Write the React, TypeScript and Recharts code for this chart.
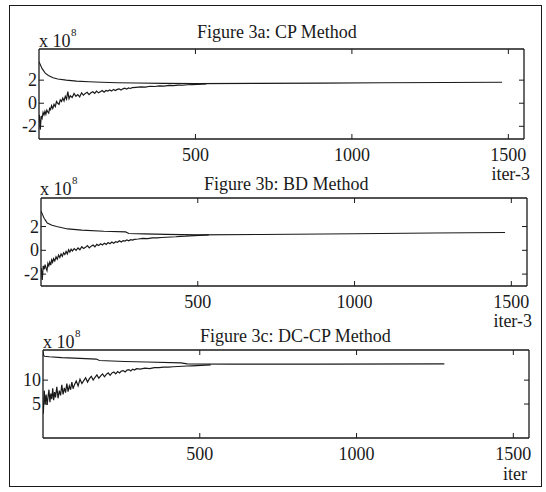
import { LineChart, Line, XAxis, YAxis } from 'recharts';

// iterations sampled for the noisy lower-bound curves
const ITER_LOW = [
  1, 4, 7, 10, 13, 16, 19, 22, 25, 28, 31, 34, 37, 40, 44, 48, 52, 56, 60, 64, 68, 72, 76, 80, 84, 88, 92, 96, 100,
  106, 112, 118, 124, 130, 136, 142, 148, 154, 160, 166, 172, 178, 184, 190, 196, 202, 208, 214, 220, 226, 232,
  238, 244, 250, 256, 262, 268, 274, 280, 286, 292, 298,
  310, 325, 340, 355, 370, 385, 400, 415, 430, 445, 460, 475, 490, 505, 520, 535,
];

const X_TICKS = [500, 1000, 1500];

// Figure 3a: CP Method (x 10^8)
const A_UP_ITER = [0, 5, 10, 15, 20, 30, 45, 60, 87, 120, 160, 200, 250, 310, 400, 500, 700, 900, 1100, 1300, 1480];
const A_UP = [3.6, 3.3, 3.0, 2.8, 2.6, 2.4, 2.2, 2.1, 2.0, 1.92, 1.86, 1.82, 1.78, 1.75, 1.72, 1.7, 1.72, 1.74, 1.77, 1.8, 1.82];
const A_LOW = [
  -1.0, -2.3, -1.1, -1.3, -0.8, -1.0, -0.7, -0.95, -0.6, -0.75, -0.85, -0.45, -0.55, -0.2, -0.45, -0.1, -0.3, 0.15,
  0.0, -0.1, 0.3, 0.15, 0.45, 0.2, 0.6, 0.35, 1.0, 0.4, 0.65,
  0.5, 0.85, 0.6, 0.75, 0.55, 0.9, 0.7, 0.85, 0.95, 0.75, 0.9, 1.0, 0.85, 1.05, 0.9, 1.0, 1.1, 0.95, 1.1, 1.05,
  1.15, 1.05, 1.2, 1.1, 1.2, 1.25, 1.15, 1.25, 1.3, 1.22, 1.32, 1.28, 1.35,
  1.38, 1.42, 1.4, 1.47, 1.45, 1.5, 1.49, 1.54, 1.52, 1.57, 1.56, 1.6, 1.62, 1.64, 1.66, 1.68,
];

// Figure 3b: BD Method (x 10^8)
const B_UP_ITER = [0, 5, 10, 15, 20, 35, 50, 85, 130, 200, 270, 280, 330, 400, 500, 700, 1000, 1250, 1480];
const B_UP = [3.3, 3.0, 2.7, 2.5, 2.3, 2.1, 2.0, 1.8, 1.7, 1.6, 1.55, 1.42, 1.38, 1.34, 1.3, 1.33, 1.4, 1.46, 1.5];
const B_LOW = [
  -1.5, -2.5, -1.3, -1.6, -1.2, -1.5, -1.7, -1.1, -1.3, -1.0, -1.25, -0.8, -1.0, -0.7, -0.9, -0.55, -0.75, -0.4,
  -0.6, -0.3, -0.5, -0.2, -0.35, -0.1, -0.3, 0.05, -0.15, 0.1, -0.05,
  0.15, 0.0, 0.2, 0.05, 0.3, 0.15, 0.25, 0.4, 0.2, 0.35, 0.45, 0.3, 0.5, 0.4, 0.55, 0.45, 0.6, 0.5, 0.65, 0.55,
  0.7, 0.6, 0.72, 0.68, 0.8, 0.7, 0.82, 0.78, 0.88, 0.8, 0.9, 0.86, 0.92,
  0.95, 1.0, 0.98, 1.04, 1.05, 1.08, 1.1, 1.12, 1.14, 1.17, 1.19, 1.22, 1.24, 1.26, 1.28, 1.3,
];

// Figure 3c: DC-CP Method (x 10^8)
const C_UP_ITER = [0, 2, 5, 20, 60, 100, 170, 180, 260, 330, 440, 460, 600, 900, 1280];
const C_UP = [16.0, 15.2, 15.0, 14.9, 14.7, 14.6, 14.4, 14.1, 13.9, 13.8, 13.6, 13.4, 13.35, 13.35, 13.4];
const C_LOW = [
  3.0, 7.8, 5.0, 7.0, 4.8, 6.5, 8.0, 5.4, 7.2, 6.0, 8.3, 5.8, 7.5, 6.4, 8.6, 6.2, 7.8, 6.8, 9.0, 7.0,
  8.4, 7.4, 9.3, 7.6, 8.8, 8.0, 9.6, 8.2, 9.0,
  9.8, 8.8, 10.2, 9.3, 9.9, 10.5, 9.6, 10.3, 10.8, 10.0, 10.6, 11.1, 10.4, 10.9, 11.3, 10.7, 11.2, 11.5, 11.0, 11.5,
  11.7, 11.3, 11.8, 11.5, 11.9, 12.0, 11.7, 12.1, 12.2, 11.9, 12.3, 12.1, 12.4,
  12.3, 12.5, 12.4, 12.6, 12.6, 12.7, 12.7, 12.8, 12.85, 12.9, 12.95, 13.0, 13.05, 13.1, 13.15, 13.2,
];

const INK = '#1a1a1a';
const FONT = '"Liberation Serif", "Times New Roman", serif';
const FS = 18;
const AXIS = { stroke: INK, strokeWidth: 1.3 };

const BottomTick = ({ x, y, payload }: any) => (
  <g>
    <line x1={x} x2={x} y1={y} y2={y - 5} stroke={INK} />
    <text x={x} y={y + 16} textAnchor="middle" dominantBaseline="central" fontFamily={FONT} fontSize={FS} fill={INK}>
      {payload.value}
    </text>
  </g>
);
const TopTick = ({ x, y }: any) => <line x1={x} x2={x} y1={y} y2={y + 5} stroke={INK} />;
const LeftTick = ({ x, y, payload }: any) => (
  <g>
    <line x1={x} x2={x + 5} y1={y} y2={y} stroke={INK} />
    <text x={x - 2} y={y} textAnchor="end" dominantBaseline="central" fontFamily={FONT} fontSize={FS} fill={INK}>
      {payload.value}
    </text>
  </g>
);
const RightTick = ({ x, y }: any) => <line x1={x} x2={x - 5} y1={y} y2={y} stroke={INK} />;

interface PanelProps {
  top: number;
  bottom: number;
  left: number;
  right: number;
  yDomain: [number, number];
  yTicks: number[];
  upIter: number[];
  up: number[];
  low: number[];
}

function Panel({ top, bottom, left, right, yDomain, yTicks, upIter, up, low }: PanelProps) {
  const upData = upIter.map((i, k) => ({ i, v: up[k] }));
  const lowData = ITER_LOW.map((i, k) => ({ i, v: low[k] }));
  const chartTop = top - 10;
  const h = bottom - chartTop + 30;
  return (
    <div style={{ position: 'absolute', left: 0, top: chartTop }}>
      <LineChart width={546} height={h} margin={{ top: 0, right: 0, bottom: 0, left: 0 }}>
        <XAxis xAxisId="b" type="number" dataKey="i" domain={[0, 1550]} ticks={X_TICKS} interval={0}
          orientation="bottom" height={30} tickSize={0} tickMargin={0} tickLine={false}
          axisLine={AXIS} tick={BottomTick} allowDataOverflow />
        <XAxis xAxisId="t" type="number" dataKey="i" domain={[0, 1550]} ticks={X_TICKS} interval={0}
          orientation="top" height={10} tickSize={0} tickMargin={0} tickLine={false}
          axisLine={AXIS} tick={TopTick} allowDataOverflow />
        <YAxis yAxisId="l" type="number" domain={yDomain} ticks={yTicks} interval={0}
          orientation="left" width={left} tickSize={0} tickMargin={0} tickLine={false}
          axisLine={AXIS} tick={LeftTick} allowDataOverflow />
        <YAxis yAxisId="r" type="number" domain={yDomain} ticks={yTicks} interval={0}
          orientation="right" width={546 - right} tickSize={0} tickMargin={0} tickLine={false}
          axisLine={AXIS} tick={RightTick} allowDataOverflow />
        <Line xAxisId="b" yAxisId="l" data={upData} dataKey="v" type="linear" stroke={INK}
          strokeWidth={1.1} dot={false} isAnimationActive={false} />
        <Line xAxisId="b" yAxisId="l" data={lowData} dataKey="v" type="linear" stroke={INK}
          strokeWidth={1.2} dot={false} isAnimationActive={false} />
      </LineChart>
    </div>
  );
}

const Txt = ({ x, y, size = FS, children, align = 'left' }: any) => (
  <div
    style={{
      position: 'absolute',
      left: x,
      top: y - size / 2,
      lineHeight: `${size}px`,
      fontSize: size,
      fontFamily: FONT,
      color: INK,
      whiteSpace: 'nowrap',
      transform: align === 'right' ? 'translateX(-100%)' : undefined,
    }}
  >
    {children}
  </div>
);

const Exp = ({ x, y }: { x: number; y: number }) => (
  <>
    <Txt x={x} y={y}>x 10</Txt>
    <Txt x={x + 32} y={y - 9} size={11}>8</Txt>
  </>
);

export default function App() {
  return (
    <div style={{ position: 'relative', width: 546, height: 492, background: '#fff', overflow: 'hidden' }}>
      <style>{'body{margin:0}'}</style>
      <div style={{ position: 'absolute', left: 9, top: 5, width: 531, height: 480, border: `1.3px solid ${INK}` }} />

      <Txt x={197} y={32}>Figure 3a: CP Method</Txt>
      <Exp x={39} y={41} />
      <Panel top={49} bottom={139} left={39} right={524} yDomain={[-3.1, 4.7]} yTicks={[-2, 0, 2]}
        upIter={A_UP_ITER} up={A_UP} low={A_LOW} />
      <Txt x={530} y={174} align="right">iter-3</Txt>

      <Txt x={204} y={184}>Figure 3b: BD Method</Txt>
      <Exp x={40} y={189} />
      <Panel top={198} bottom={286} left={41} right={527} yDomain={[-3.0, 4.4]} yTicks={[-2, 0, 2]}
        upIter={B_UP_ITER} up={B_UP} low={B_LOW} />
      <Txt x={532} y={321} align="right">iter-3</Txt>

      <Txt x={200} y={336}>Figure 3c: DC-CP Method</Txt>
      <Exp x={43} y={342} />
      <Panel top={350} bottom={438} left={43} right={529} yDomain={[-2.1, 16.3]} yTicks={[5, 10]}
        upIter={C_UP_ITER} up={C_UP} low={C_LOW} />
      <Txt x={527} y={474} align="right">iter</Txt>
    </div>
  );
}
